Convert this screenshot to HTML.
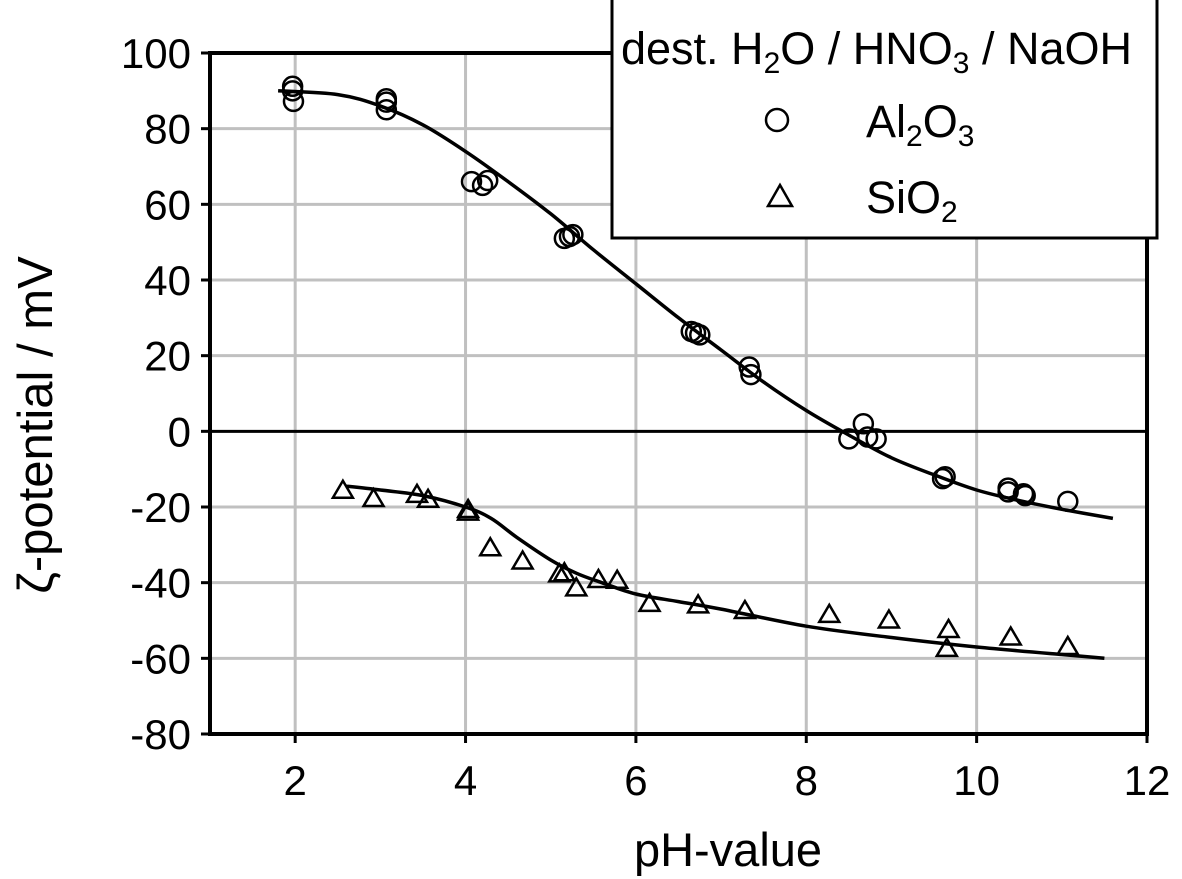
<!DOCTYPE html>
<html><head><meta charset="utf-8"><style>
html,body{margin:0;padding:0;background:#fff}
svg{display:block;font-family:"Liberation Sans",Arial,sans-serif}
</style></head><body>
<svg id="chart" width="1182" height="879" viewBox="0 0 1182 879" xmlns="http://www.w3.org/2000/svg">
<g id="grid"></g>
<g id="axes"></g>
<g id="series"></g>
<text transform="translate(52,425) rotate(-90)" text-anchor="middle" font-size="49">ζ-potential / mV</text>
<text x="728" y="866" text-anchor="middle" font-size="47">pH-value</text>
<g>
<rect x="612" y="-2" width="545" height="240" fill="#fff" stroke="#000" stroke-width="3"/>
<text x="621" y="64" font-size="45">dest. H<tspan font-size="30" dy="9">2</tspan><tspan dy="-9">O / HNO</tspan><tspan font-size="30" dy="9">3</tspan><tspan dy="-9"> / NaOH</tspan></text>
<circle cx="777" cy="120" r="11" fill="#fff" stroke="#000" stroke-width="2.5"/>
<text x="866" y="137" font-size="45">Al<tspan font-size="30" dy="9">2</tspan><tspan dy="-9">O</tspan><tspan font-size="30" dy="9">3</tspan></text>
<polygon points="780,185 768,206 792,206" fill="#fff" stroke="#000" stroke-width="2.5"/>
<text x="866" y="213" font-size="45">SiO<tspan font-size="30" dy="9">2</tspan></text>
</g>
</svg>
<script>
const xTicks = [2,4,6,8,10,12];
const yTicks = [100,80,60,40,20,0,-20,-40,-60,-80];
const alPH = [1.97,1.97,1.98,3.07,3.07,3.07,4.07,4.2,4.26,5.16,5.22,5.26,6.65,6.7,6.75,7.33,7.35,8.5,8.67,8.72,8.82,9.6,9.63,10.37,10.37,10.55,10.57,11.07];
const alZeta = [91.2,90,87.2,87.9,87,85,66,65,66.3,51,51.5,52,26.4,26,25.5,17,15,-2,2,-1.5,-2,-12.5,-12,-15,-16,-16.5,-17,-18.5];
const siPH = [2.56,2.92,3.43,3.56,4.03,4.03,4.29,4.67,5.1,5.16,5.3,5.56,5.78,6.16,6.73,7.28,8.27,8.97,9.67,9.65,10.4,11.07];
const siZeta = [-15.7,-17.9,-16.8,-18.1,-20.8,-21.5,-30.9,-34.4,-37.8,-37.5,-41.5,-39.3,-39.5,-45.6,-46,-47.5,-48.5,-50,-52.5,-57.5,-54.5,-57];
const alFitPH = [1.8,2.5,3,3.5,4,4.5,5,5.5,6,6.5,7,7.5,8,8.5,9,9.5,10,10.5,11,11.6];
const alFitZeta = [90,89,86,81,74,66,57.5,48,39,30,21.5,13,5.5,-1,-7,-11.5,-15.5,-18.3,-20.6,-23];
const siFitPH = [2.6,3,3.5,4,4.3,4.6,5,5.3,5.6,6,6.5,7,8,9,10,11,11.5];
const siFitZeta = [-14.5,-15.5,-17,-20,-23,-28,-34,-37.5,-40,-43,-45,-47,-51.5,-54.5,-57,-59,-60];

const L=210,R=1147,T=53,B=734;
const sx=v=>L+(v-1)*(R-L)/11;
const sy=v=>T+(100-v)*(B-T)/180;
const NS="http://www.w3.org/2000/svg";
function mk(tag,attrs,parent){const e=document.createElementNS(NS,tag);for(const k in attrs)e.setAttribute(k,attrs[k]);parent.appendChild(e);return e;}
const grid=document.getElementById('grid'),axes=document.getElementById('axes'),ser=document.getElementById('series');
xTicks.forEach(t=>{
  if(t<12){const g=mk('line',{x1:sx(t),x2:sx(t),y1:T,y2:B,stroke:'#c0c0c0','stroke-width':3},grid);
  
  }
  const tk=mk('line',{x1:sx(t),x2:sx(t),y1:B,y2:B+9,stroke:'#000','stroke-width':3},axes);
  
  
  const lb=mk('text',{x:sx(t),y:795,'text-anchor':'middle','font-size':42},axes);
  
  
  lb.textContent=t;
});
yTicks.forEach(t=>{
  if(t!==100&&t!==-80&&t!==0){const g=mk('line',{x1:L,x2:R,y1:sy(t),y2:sy(t),stroke:'#c0c0c0','stroke-width':3},grid);
  
  }
  const tk=mk('line',{x1:L-9,x2:L,y1:sy(t),y2:sy(t),stroke:'#000','stroke-width':3},axes);
  
  
  const lb=mk('text',{x:191,y:sy(t)+15,'text-anchor':'end','font-size':42},axes);
  
  
  lb.textContent=t;
});
const zl=mk('line',{x1:L,x2:R,y1:sy(0),y2:sy(0),stroke:'#000','stroke-width':3},axes);


const fr=mk('rect',{x:L,y:T,width:R-L,height:B-T,fill:'none',stroke:'#000','stroke-width':4},axes);


function curve(xs,ys){
  const P=xs.map((x,i)=>[sx(x),sy(ys[i])]);
  let d='M'+P[0][0].toFixed(1)+','+P[0][1].toFixed(1);
  for(let i=0;i<P.length-1;i++){
    const p0=P[Math.max(0,i-1)],p1=P[i],p2=P[i+1],p3=P[Math.min(P.length-1,i+2)];
    const c1x=p1[0]+(p2[0]-p0[0])/6,c1y=p1[1]+(p2[1]-p0[1])/6;
    const c2x=p2[0]-(p3[0]-p1[0])/6,c2y=p2[1]-(p3[1]-p1[1])/6;
    d+=`C${c1x.toFixed(1)},${c1y.toFixed(1)} ${c2x.toFixed(1)},${c2y.toFixed(1)} ${p2[0].toFixed(1)},${p2[1].toFixed(1)}`;
  }
  return d;
}
const c1=mk('path',{d:curve(alFitPH,alFitZeta),fill:'none',stroke:'#000','stroke-width':3.5},ser);


const c2=mk('path',{d:curve(siFitPH,siFitZeta),fill:'none',stroke:'#000','stroke-width':3.5},ser);


alPH.forEach((p,i)=>{
  const c=mk('circle',{cx:sx(p),cy:sy(alZeta[i]),r:9.5,fill:'none',stroke:'#000','stroke-width':2.5},ser);
  
  
});
siPH.forEach((p,i)=>{
  const x=sx(p),y=sy(siZeta[i]);
  const t=mk('polygon',{points:`${x},${y-10} ${x-10},${y+7} ${x+10},${y+7}`,fill:'none',stroke:'#000','stroke-width':2.5},ser);
  
  
});
</script>
</body></html>
